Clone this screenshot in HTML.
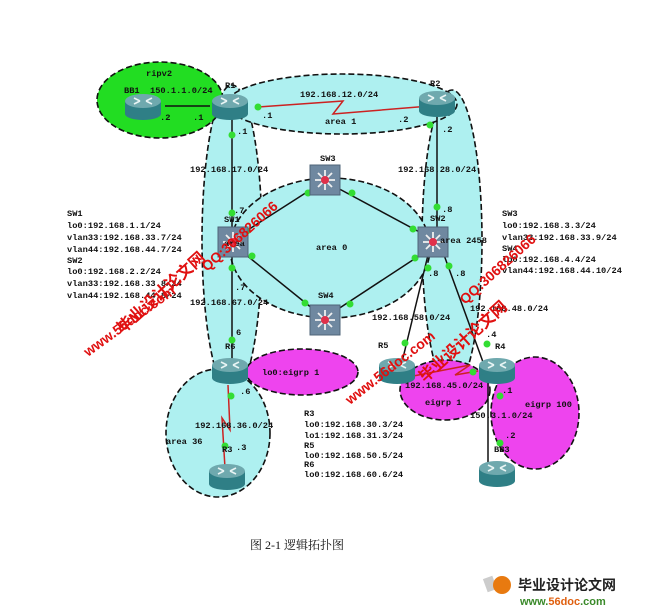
<!DOCTYPE html>
<html><head><meta charset="utf-8"><style>
html,body{margin:0;padding:0;background:#fff;}
svg{display:block;}
.t{font-family:"Liberation Mono",monospace;font-size:8.7px;font-weight:bold;fill:#111;}
.d{stroke:#111;stroke-width:1.6;stroke-dasharray:6,3;}
.wm{font-family:"Liberation Sans","Noto Sans CJK SC",sans-serif;font-weight:bold;fill:#e01010;}
</style></head><body>
<svg width="645" height="613" viewBox="0 0 645 613" xmlns="http://www.w3.org/2000/svg">
<defs>
<g id="rt">
 <rect x="-18" y="-7" width="36" height="13" fill="#2f7f86"/>
 <ellipse cx="0" cy="6" rx="18" ry="6" fill="#2f7f86"/>
 <ellipse cx="0" cy="-7" rx="18" ry="7" fill="#6fa9ae"/>
 <path d="M-9,-10 L-3,-7 M-9,-4 L-3,-7 M9,-10 L3,-7 M9,-4 L3,-7" stroke="#e8f4f4" stroke-width="1.6"/>
</g>
<g id="sw">
 <rect x="-15" y="-15" width="30" height="30" fill="#6f88a0" stroke="#4f6478"/>
 <path d="M-10,0 L10,0 M0,-10 L0,10 M-7,-7 L7,7 M-7,7 L7,-7" stroke="#f0f0f0" stroke-width="1.8"/>
 <circle cx="0" cy="0" r="4" fill="#e0304a"/>
</g>
</defs>
<ellipse cx="232" cy="240" rx="30" ry="155" fill="#aef0f0" class="d"/>
<ellipse cx="452" cy="240" rx="30" ry="150" fill="#aef0f0" class="d"/>
<ellipse cx="160" cy="100" rx="63" ry="38" fill="#22dd22" class="d"/>
<ellipse cx="342" cy="104" rx="115" ry="30" fill="#aef0f0" class="d"/>
<ellipse cx="330" cy="248" rx="100" ry="70" fill="#aef0f0" class="d"/>
<ellipse cx="218" cy="433" rx="52" ry="64" fill="#aef0f0" class="d"/>
<ellipse cx="302" cy="372" rx="56" ry="23" fill="#ee44ee" class="d"/>
<ellipse cx="445" cy="390" rx="45" ry="30" fill="#ee44ee" class="d"/>
<ellipse cx="535" cy="413" rx="44" ry="56" fill="#ee44ee" class="d"/>
<g stroke="#111" stroke-width="1.5" fill="none">
<line x1="165" y1="106" x2="210" y2="106"/>
<line x1="232" y1="115" x2="232" y2="360"/>
<line x1="437" y1="115" x2="437" y2="242"/>
<line x1="240" y1="235" x2="318" y2="185"/>
<line x1="240" y1="250" x2="318" y2="313"/>
<line x1="332" y1="185" x2="425" y2="235"/>
<line x1="332" y1="313" x2="425" y2="252"/>
<line x1="428" y1="255" x2="402" y2="362"/>
<line x1="444" y1="255" x2="483" y2="362"/>
<line x1="488" y1="380" x2="488" y2="465"/>
</g>
<polyline points="258,107 343,101 333,114 430,106" stroke="#cc2222" stroke-width="1.5" fill="none"/>
<polyline points="228,385 230,430 222,418 225,468" stroke="#cc2222" stroke-width="1.5" fill="none"/>
<polyline points="403,378 470,365 455,375 478,371" stroke="#cc2222" stroke-width="1.5" fill="none"/>
<g fill="#33dd33">
<circle cx="258" cy="107" r="3.5"/><circle cx="430" cy="125" r="3.5"/><circle cx="232" cy="135" r="3.5"/>
<circle cx="437" cy="207" r="3.5"/><circle cx="232" cy="213" r="3.5"/><circle cx="232" cy="268" r="3.5"/>
<circle cx="232" cy="340" r="3.5"/><circle cx="247" cy="231" r="3.5"/><circle cx="252" cy="256" r="3.5"/>
<circle cx="308" cy="193" r="3.5"/><circle cx="305" cy="303" r="3.5"/><circle cx="352" cy="193" r="3.5"/>
<circle cx="350" cy="304" r="3.5"/><circle cx="413" cy="229" r="3.5"/><circle cx="415" cy="258" r="3.5"/>
<circle cx="428" cy="268" r="3.5"/><circle cx="449" cy="266" r="3.5"/><circle cx="405" cy="343" r="3.5"/>
<circle cx="487" cy="344" r="3.5"/><circle cx="473" cy="372" r="3.5"/><circle cx="500" cy="396" r="3.5"/>
<circle cx="500" cy="443" r="3.5"/><circle cx="231" cy="396" r="3.5"/><circle cx="225" cy="446" r="3.5"/>
</g>
<use href="#rt" x="143" y="108"/>
<use href="#rt" x="230" y="108"/>
<use href="#rt" x="437" y="105"/>
<use href="#rt" x="230" y="372"/>
<use href="#rt" x="227" y="478"/>
<use href="#rt" x="397" y="372"/>
<use href="#rt" x="497" y="372"/>
<use href="#rt" x="497" y="475"/>
<use href="#sw" x="325" y="180"/>
<use href="#sw" x="233" y="242"/>
<use href="#sw" x="433" y="242"/>
<use href="#sw" x="325" y="320"/>
<g class="t">
<text x="146" y="76">ripv2</text>
<text x="124" y="93">BB1</text><text x="150" y="93">150.1.1.0/24</text>
<text x="225" y="88">R1</text><text x="430" y="86">R2</text>
<text x="160" y="120">.2</text><text x="193" y="120">.1</text>
<text x="262" y="118">.1</text><text x="300" y="97">192.168.12.0/24</text>
<text x="325" y="124">area 1</text><text x="398" y="122">.2</text>
<text x="237" y="134">.1</text><text x="442" y="132">.2</text>
<text x="190" y="172">192.168.17.0/24</text><text x="398" y="172">192.168.28.0/24</text>
<text x="320" y="161">SW3</text>
<text x="234" y="213">.7</text><text x="224" y="222">SW1</text>
<text x="442" y="212">.8</text><text x="430" y="221">SW2</text>
<text x="440" y="243">area 2458</text>
<text x="224" y="246">area</text>
<text x="316" y="250">area 0</text>
<text x="67" y="216">SW1</text>
<text x="67" y="228">lo0:192.168.1.1/24</text>
<text x="67" y="240">vlan33:192.168.33.7/24</text>
<text x="67" y="252">vlan44:192.168.44.7/24</text>
<text x="67" y="263">SW2</text>
<text x="67" y="274">lo0:192.168.2.2/24</text>
<text x="67" y="286">vlan33:192.168.33.8/24</text>
<text x="67" y="298">vlan44:192.168.44.8/24</text>
<text x="502" y="216">SW3</text>
<text x="502" y="228">lo0:192.168.3.3/24</text>
<text x="502" y="240">vlan33:192.168.33.9/24</text>
<text x="502" y="251">SW4</text>
<text x="502" y="262">lo0:192.168.4.4/24</text>
<text x="502" y="273">vlan44:192.168.44.10/24</text>
<text x="235" y="290">.7</text>
<text x="428" y="276">.8</text><text x="455" y="276">.8</text>
<text x="190" y="305">192.168.67.0/24</text>
<text x="318" y="298">SW4</text>
<text x="372" y="320">192.168.58.0/24</text>
<text x="470" y="311">192.168.48.0/24</text>
<text x="236" y="335">6</text>
<text x="225" y="349">R6</text>
<text x="262" y="375">lo0:eigrp 1</text>
<text x="378" y="348">R5</text>
<text x="486" y="337">.4</text><text x="495" y="349">R4</text>
<text x="240" y="394">.6</text>
<text x="405" y="388">192.168.45.0/24</text>
<text x="425" y="405">eigrp 1</text>
<text x="502" y="393">.1</text>
<text x="525" y="407">eigrp 100</text>
<text x="470" y="418">150.3.1.0/24</text>
<text x="505" y="438">.2</text>
<text x="195" y="428">192.168.36.0/24</text>
<text x="166" y="444">area 36</text>
<text x="222" y="452">R3</text><text x="236" y="450">.3</text>
<text x="494" y="452">BB3</text>
<text x="304" y="416">R3</text>
<text x="304" y="427">lo0:192.168.30.3/24</text>
<text x="304" y="438">lo1:192.168.31.3/24</text>
<text x="304" y="448">R5</text>
<text x="304" y="458">lo0:192.168.50.5/24</text>
<text x="304" y="467">R6</text>
<text x="304" y="477">lo0:192.168.60.6/24</text>
</g>
<text class="wm" font-size="16" transform="translate(123,334) rotate(-42)">毕业设计论文网</text>
<text class="wm" font-size="14" transform="translate(88,357) rotate(-36)">www.56doc.com</text>
<text class="wm" font-size="14" transform="translate(207,272) rotate(-42)">QQ:306826066</text>
<text class="wm" font-size="14" transform="translate(350,405) rotate(-38)">www.56doc.com</text>
<text class="wm" font-size="16" transform="translate(425,383) rotate(-42)">毕业设计论文网</text>
<text class="wm" font-size="14" transform="translate(465,305) rotate(-42)">QQ:306826066</text>
<text x="250" y="549" font-family="Liberation Serif,'Noto Serif CJK SC',serif" font-size="12" fill="#111">图 2-1   逻辑拓扑图</text>
<rect x="485" y="577" width="10" height="14" fill="#ccc" transform="rotate(-20 490 584)"/>
<circle cx="502" cy="585" r="9" fill="#e87a10"/>
<text x="518" y="590" font-family="'Noto Sans CJK SC',sans-serif" font-size="14" font-weight="bold" fill="#222">毕业设计论文网</text>
<text x="520" y="605" font-family="Liberation Sans,sans-serif" font-size="11" font-weight="bold" fill="#3a8a2a">www.<tspan fill="#e06010">56doc</tspan>.com</text>
</svg>
</body></html>
